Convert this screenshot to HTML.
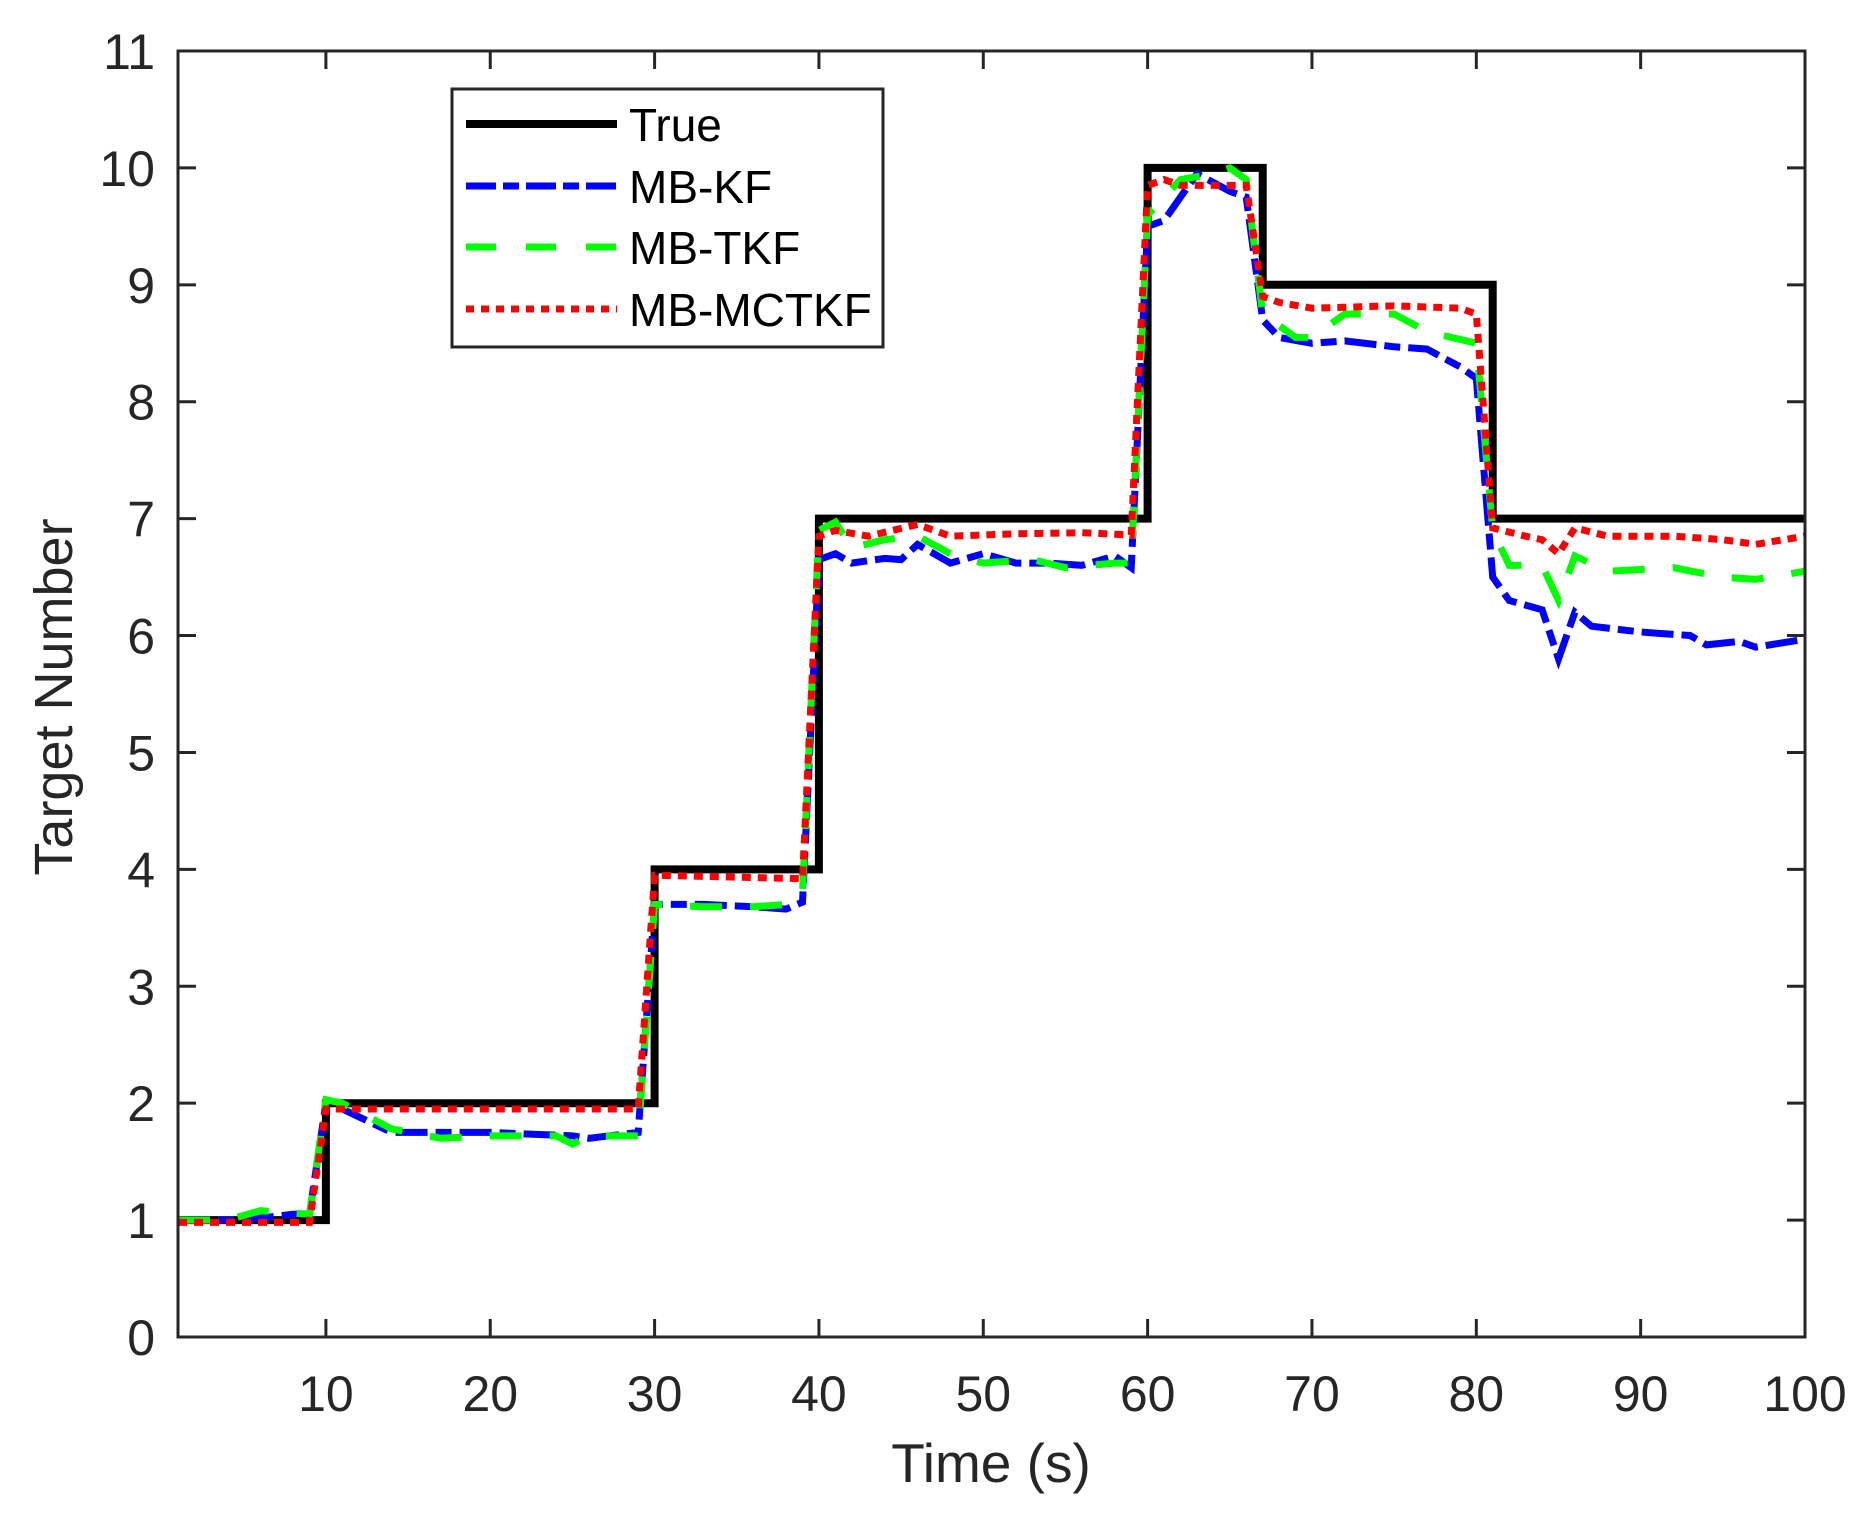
<!DOCTYPE html>
<html><head><meta charset="utf-8"><style>
html,body{margin:0;padding:0;background:#fff;}
svg{display:block;}
text{font-family:"Liberation Sans",sans-serif;fill:#262626;}
</style></head><body>
<svg id="s" width="1868" height="1515" xmlns="http://www.w3.org/2000/svg">
<rect width="1868" height="1515" fill="#fff"/>
<g id="ticks"></g>
<g id="series"></g>
<rect x="178" y="51" width="1627" height="1286" fill="none" stroke="#262626" stroke-width="3"/>
<text x="991" y="1482" font-size="55" text-anchor="middle">Time (s)</text>
<text transform="translate(72,697) rotate(-90)" font-size="54" text-anchor="middle">Target Number</text>
<rect x="452" y="89" width="431" height="258" fill="#fff" stroke="#262626" stroke-width="3"/>
<line x1="466" y1="124" x2="617" y2="124" stroke="#000" stroke-width="8"/>
<line x1="466" y1="186" x2="617" y2="186" stroke="#00f" stroke-width="7" stroke-dasharray="30,7,16,7"/>
<line x1="466" y1="247" x2="617" y2="247" stroke="#0f0" stroke-width="7" stroke-dasharray="30,30"/>
<line x1="466" y1="309" x2="617" y2="309" stroke="#f00" stroke-width="7" stroke-dasharray="8,7"/>
<text x="629" y="141" font-size="46" style="fill:#000">True</text>
<text x="629" y="203" font-size="46" style="fill:#000">MB-KF</text>
<text x="629" y="264" font-size="46" style="fill:#000">MB-TKF</text>
<text x="629" y="326" font-size="46" style="fill:#000">MB-MCTKF</text>
</svg>
<script>
function X(t){return 178+(t-1)*1627/99;}
function Y(v){return 1337-v*1286/11;}
var tk=document.getElementById('ticks'),h='';
for(var t=10;t<=100;t+=10){var x=X(t);
h+='<line x1="'+x+'" y1="1337" x2="'+x+'" y2="1319" stroke="#262626" stroke-width="3"/>';
h+='<line x1="'+x+'" y1="51" x2="'+x+'" y2="69" stroke="#262626" stroke-width="3"/>';
h+='<text x="'+x+'" y="1411" font-size="50" text-anchor="middle">'+t+'</text>';}
for(var v=0;v<=11;v++){var y=Y(v);
h+='<line x1="178" y1="'+y+'" x2="196" y2="'+y+'" stroke="#262626" stroke-width="3"/>';
h+='<line x1="1805" y1="'+y+'" x2="1787" y2="'+y+'" stroke="#262626" stroke-width="3"/>';
h+='<text x="155" y="'+(y+18)+'" font-size="50" text-anchor="end">'+v+'</text>';}
tk.innerHTML=h;
function interp(k){var out=[];for(var t=1;t<=100;t++){for(var i=0;i<k.length-1;i++){if(t>=k[i][0]&&t<=k[i+1][0]){var a=k[i],b=k[i+1];var f=b[0]==a[0]?0:(t-a[0])/(b[0]-a[0]);out.push([t,a[1]+(b[1]-a[1])*f]);break;}}}return out;}
var kf=interp([[1,1],[5,1],[8,1.05],[9,1.05],[10,2],[11,1.95],[14,1.75],[17,1.75],[20,1.75],[25,1.72],[26,1.7],[29,1.75],[30,3.7],[33,3.7],[36,3.68],[38,3.66],[39,3.72],[40,6.65],[41,6.7],[42,6.62],[44,6.66],[45,6.65],[46,6.78],[48,6.62],[50,6.7],[52,6.62],[54,6.62],[56,6.6],[58,6.68],[59,6.58],[60,9.5],[61,9.55],[63,9.95],[65,9.8],[66,9.75],[67,8.7],[68,8.55],[70,8.5],[72,8.52],[75,8.47],[77,8.45],[79,8.3],[80,8.2],[81,6.5],[82,6.3],[84,6.22],[85,5.8],[86,6.2],[87,6.08],[90,6.03],[93,6.0],[94,5.92],[96,5.95],[97,5.9],[100,5.97]]);
var tkf=interp([[1,1],[4,1],[6,1.08],[9,1.05],[10,2.03],[11,2.0],[14,1.78],[17,1.7],[20,1.72],[24,1.72],[25,1.65],[26,1.72],[29,1.72],[30,3.7],[33,3.68],[36,3.68],[38,3.7],[39,3.8],[40,6.9],[41,6.97],[42,6.75],[44,6.82],[46,6.85],[48,6.7],[50,6.62],[53,6.65],[55,6.58],[58,6.62],[59,6.62],[60,9.6],[62,9.9],[64,9.95],[65,10.0],[66,9.9],[67,8.75],[69,8.55],[70,8.55],[72,8.75],[75,8.75],[77,8.6],[80,8.5],[81,6.9],[82,6.6],[84,6.6],[85,6.3],[86,6.68],[88,6.55],[92,6.58],[95,6.5],[97,6.48],[100,6.55]]);
var mc=interp([[1,0.98],[9,0.98],[10,1.95],[29,1.95],[30,3.95],[39,3.92],[40,6.85],[41,6.9],[43,6.85],[46,6.95],[48,6.85],[52,6.87],[56,6.88],[59,6.86],[60,9.85],[61,9.9],[62,9.85],[66,9.85],[67,8.9],[68,8.85],[70,8.8],[75,8.82],[79,8.8],[80,8.75],[81,6.92],[83,6.85],[84,6.82],[85,6.7],[86,6.92],[88,6.85],[92,6.85],[95,6.82],[97,6.78],[100,6.85]]);
function pts(a){return a.map(function(p){return X(p[0]).toFixed(1)+','+Y(p[1]).toFixed(1);}).join(' ');}
var trueSteps=[[1,1],[10,1],[10,2],[30,2],[30,4],[40,4],[40,7],[60,7],[60,10],[67,10],[67,9],[81,9],[81,7],[100,7]];
var g=document.getElementById('series');
g.innerHTML='<polyline points="'+pts(trueSteps)+'" fill="none" stroke="#000" stroke-width="8" stroke-linejoin="miter"/>'+
'<polyline points="'+pts(kf)+'" fill="none" stroke="#00f" stroke-width="7" stroke-dasharray="32,8,16,8"/>'+
'<polyline points="'+pts(tkf)+'" fill="none" stroke="#0f0" stroke-width="7" stroke-dasharray="32,28"/>'+
'<polyline points="'+pts(mc)+'" fill="none" stroke="#f00" stroke-width="7" stroke-dasharray="9,7"/>';
</script>
</body></html>
